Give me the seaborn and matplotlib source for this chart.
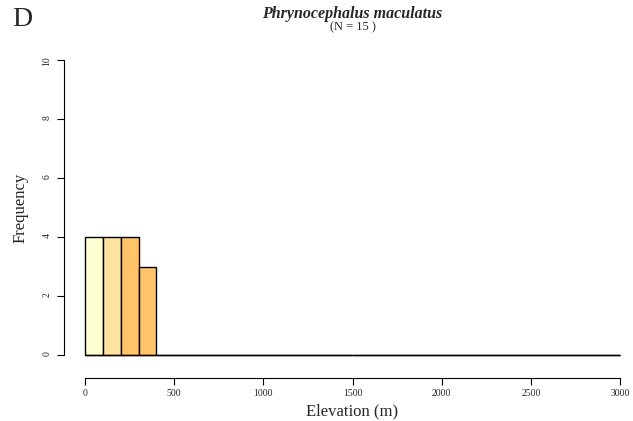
import numpy as np
import pandas as pd
import matplotlib
matplotlib.use("Agg")
import matplotlib.pyplot as plt
import seaborn as sns

# Histogram bins (elevation, m) and counts
bin_edges = list(range(0, 3100, 100))
counts = [4, 4, 4, 3] + [0] * 26
bar_colors = ["#FFFFD4", "#FFE29E", "#FFC46A", "#FFC46A"]

species = "Phrynocephalus maculatus"
n_total = 15
panel = "D"

sns.set_style("white")
plt.rcParams["font.family"] = ["Liberation Serif", "DejaVu Serif"]

df = pd.DataFrame({
    "mid": [(a + b) / 2 for a, b in zip(bin_edges[:-1], bin_edges[1:])],
    "count": counts,
})

fig = plt.figure(figsize=(6.33, 4.21), dpi=100)
ax = fig.add_axes([85 / 633, 66 / 421, 535 / 633, 295 / 421])

sns.histplot(data=df, x="mid", weights="count", bins=bin_edges, ax=ax,
             color="#FFC46A", edgecolor="black", linewidth=1.0, alpha=1)
for patch in ax.patches:
    patch.set_clip_on(False)
for patch, col in zip(ax.patches, bar_colors):
    patch.set_facecolor(col)
# empty bins collapse onto the baseline, draw it explicitly so it shows
ax.plot([bin_edges[0], bin_edges[-1]], [0, 0], color="black", lw=1.0,
        solid_capstyle="butt", zorder=3, clip_on=False)

ax.set_xlim(0, 3000)
ax.set_ylim(0, 10)
ax.set_xticks(range(0, 3001, 500))
ax.set_yticks(range(0, 11, 2))
ax.tick_params(axis="x", bottom=True, labelsize=7, length=5, width=0.8,
               direction="out", pad=3, color="black")
ax.tick_params(axis="y", left=True, labelsize=7, length=5, width=0.8,
               direction="out", pad=4, labelrotation=90, color="black")
for lbl in ax.get_yticklabels():
    lbl.set_verticalalignment("center")

for s in ["top", "right"]:
    ax.spines[s].set_visible(False)
ax.spines["bottom"].set_position(("outward", 16.5))
ax.spines["left"].set_position(("outward", 15))
ax.spines["bottom"].set_bounds(0, 3000)
ax.spines["left"].set_bounds(0, 10)
for s in ["bottom", "left"]:
    ax.spines[s].set_linewidth(0.8)
    ax.spines[s].set_color("black")

ax.set_xlabel("Elevation (m)", fontsize=12, labelpad=4)
ax.set_ylabel("Frequency", fontsize=12, labelpad=10)

fig.text(352.5 / 633, 1 - 14 / 421, species, ha="center", va="center",
         fontsize=11.5, fontweight="bold", fontstyle="italic")
fig.text(352.5 / 633, 1 - 27 / 421, f"(N = {n_total} )", ha="center", va="center",
         fontsize=9)
fig.text(22 / 633, 1 - 19 / 421, panel, ha="center", va="center", fontsize=20)

fig.savefig("out.png", dpi=100)
